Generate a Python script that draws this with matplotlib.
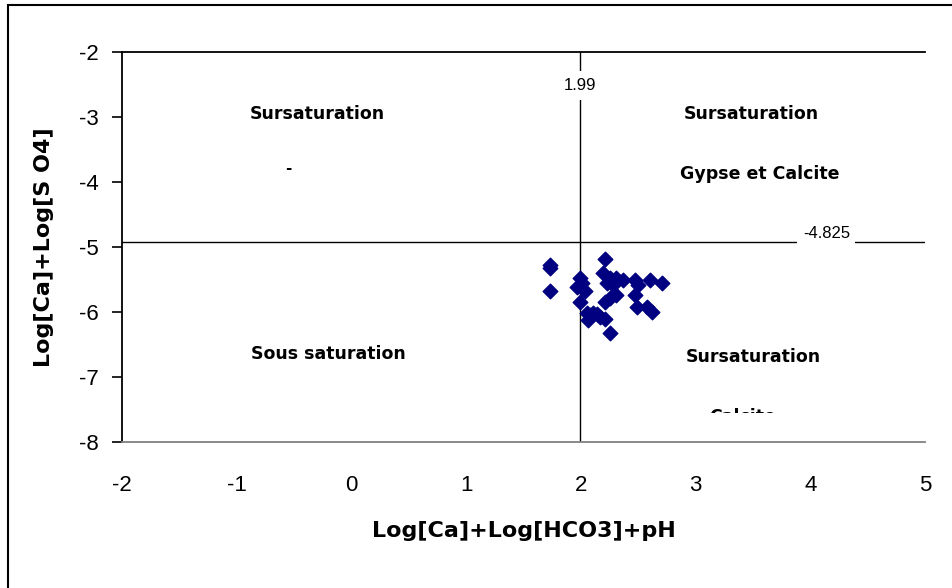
import numpy as np
import matplotlib
matplotlib.use("Agg")
import matplotlib.pyplot as plt
from matplotlib.patches import Rectangle

plt.rcParams['axes.unicode_minus'] = False

# sample points: Log[Ca]+Log[HCO3]+pH vs Log[Ca]+Log[SO4]
x_vals = [1.73, 1.73, 1.73, 2.21, 1.99, 2.01, 1.97, 2.04, 1.99, 2.05,
          2.11, 2.17, 2.06, 2.21, 2.25, 2.19, 2.25, 2.31, 2.37, 2.23,
          2.28, 2.31, 2.25, 2.21, 2.47, 2.50, 2.60, 2.71, 2.47, 2.49,
          2.58, 2.62, 2.08, 2.14]
y_vals = [-5.28, -5.33, -5.67, -5.19, -5.48, -5.55, -5.62, -5.67, -5.85, -6.02,
          -6.02, -6.08, -6.13, -6.10, -6.33, -5.40, -5.48, -5.48, -5.51, -5.56,
          -5.59, -5.74, -5.79, -5.85, -5.51, -5.59, -5.51, -5.56, -5.74, -5.93,
          -5.93, -6.00, -6.05, -6.03]

x_sat = 1.99
y_sat_label = '-4.825'
y_sat = -4.92   # where the line sits on the picture
x_ticks = [-2, -1, 0, 1, 2, 3, 4, 5]
y_ticks = [-2, -3, -4, -5, -6, -7, -8]

tick_font = 'Liberation Sans'

fig = plt.figure(figsize=(9.52, 5.88), dpi=100)
fig.patches.append(Rectangle((8 / 952, -0.01), 1.02, 1 - 5 / 588 + 0.01,
                             transform=fig.transFigure, fill=False,
                             edgecolor='black', linewidth=1.5))
ax = fig.add_axes([122 / 952, 146 / 588, 803 / 952, 390 / 588])

ax.scatter(x_vals, y_vals, marker='D', s=55, color='#000080', zorder=3)

# reference lines
ax.plot([-2, 5], [-2, -2], color='black', lw=1.3, zorder=2, clip_on=False)
ax.plot([-2, 5], [y_sat, y_sat], color='black', lw=1.0, zorder=2)
ax.plot([x_sat, x_sat], [-8, -2], color='black', lw=1.0, zorder=2)

ax.text(x_sat, -2.52, '1.99', ha='center', va='center', fontsize=12,
        family=tick_font, bbox=dict(facecolor='white', edgecolor='none', pad=5),
        zorder=4)
ax.text(4.14, -4.79, y_sat_label, ha='center', va='center', fontsize=12,
        family=tick_font, bbox=dict(facecolor='white', edgecolor='none', pad=4),
        zorder=4)

lab = dict(fontsize=12.5, fontweight='bold', ha='center', va='center',
           family='DejaVu Sans', zorder=4)
ax.text(-0.30, -2.95, 'Sursaturation', **lab)
ax.text(3.49, -2.95, 'Sursaturation', **lab)
ax.text(3.56, -3.87, 'Gypse et Calcite', **lab)
ax.text(-0.20, -6.65, 'Sous saturation', **lab)
ax.text(3.50, -6.69, 'Sursaturation', **lab)
ax.text(-0.55, -3.79, '-', fontsize=11, fontweight='bold', ha='center', va='center')
# half-hidden "Calcite" label
ax.text(3.41, -7.62, 'Calcite', **lab)
ax.add_patch(Rectangle((2.9, -7.9), 1.2, 0.34, facecolor='white',
                       edgecolor='none', zorder=5))

ax.set_xlim(-2, 5)
ax.set_ylim(-8, -2)
ax.set_xticks(x_ticks)
ax.set_yticks(y_ticks)
ax.tick_params(axis='x', length=0, pad=24, labelsize=16)
ax.tick_params(axis='y', length=7, width=1.2, direction='out', pad=10, labelsize=16)
for t in ax.get_xticklabels() + ax.get_yticklabels():
    t.set_family(tick_font)

for s in ['top', 'right']:
    ax.spines[s].set_visible(False)
ax.spines['bottom'].set_color('#808080')
ax.spines['bottom'].set_linewidth(1.3)
ax.spines['left'].set_linewidth(1.3)

ax.set_xlabel('Log[Ca]+Log[HCO3]+pH', fontsize=16, fontweight='bold', labelpad=18)
ax.set_ylabel('Log[Ca]+Log[S O4]', fontsize=16, fontweight='bold', labelpad=18)

fig.savefig('out.png', dpi=100)
